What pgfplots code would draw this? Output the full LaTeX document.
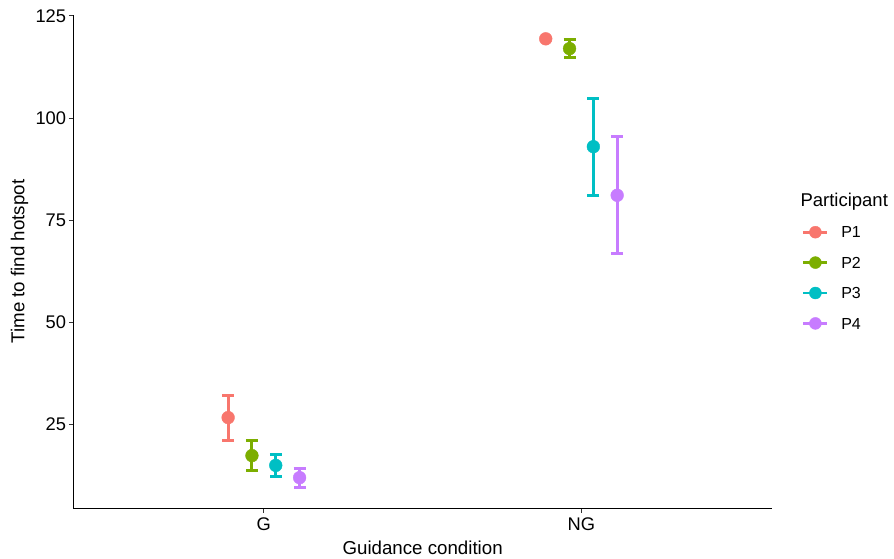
\documentclass[border=0pt]{standalone}
\usepackage{fontspec}
\setmainfont{Liberation Sans}
\usepackage{pgfplots}
\pgfplotsset{compat=1.18}
\usepackage{pgfplotstable}
\definecolor{p1}{HTML}{F8766D}
\definecolor{p2}{HTML}{7CAE00}
\definecolor{p3}{HTML}{00BFC4}
\definecolor{p4}{HTML}{C77CFF}

% x: category position (G=1, NG=2) plus dodge offset; e: half-width of error bar
\pgfplotstableread{
x y e
0.8875 26.7 5.5
1.8875 119.4 0
}\Pone
\pgfplotstableread{
x y e
0.9625 17.4 3.7
1.9625 117.0 2.25
}\Ptwo
\pgfplotstableread{
x y e
1.0375 15.0 2.75
2.0375 93.0 11.85
}\Pthree
\pgfplotstableread{
x y e
1.1125 12.0 2.35
2.1125 81.1 14.35
}\Pfour

\pgfplotsset{
  pstyle/.style={
    color=#1, only marks, mark=*, mark size=6.4pt,
    legend image code/.code={
      \draw[line width=2.8pt] (0pt,0pt) -- (24pt,0pt);
      \fill (12pt,0pt) circle (6pt);
    },
    error bars/.cd, y dir=both, y explicit,
    error bar style={line width=3pt},
    error mark options={rotate=90, mark size=6pt, line width=3pt}
  }
}

\begin{document}
\begin{tikzpicture}
\path[use as bounding box] (-73.3pt,-49.7pt) rectangle (820.7pt,508.3pt);
\begin{axis}[
  at={(0pt,0pt)}, anchor=south west,
  scale only axis, width=698.7pt, height=493.6pt,
  xmin=0.4, xmax=2.6, ymin=4.5, ymax=125.3,
  axis x line=bottom, axis y line=left,
  axis line style={-, line width=1.3pt, black},
  xtick={1,2}, xticklabels={G,NG},
  ytick={25,50,75,100,125}, yticklabels={25,50,75,100,125},
  tick align=outside, major tick length=4.5pt,
  tick style={line width=1.1pt, color=black!80},
  ticklabel style={font=\fontsize{18.3}{20}\selectfont, text=black},
  yticklabel style={anchor=east, inner sep=0pt, xshift=-2.5pt},
  xticklabel style={anchor=base, inner sep=0pt},
  every x tick label/.append style={yshift=-17.7pt},
  xlabel={Guidance condition}, ylabel={Time to find hotspot},
  every axis x label/.style={at={(rel axis cs:0.5,0)}, anchor=base, yshift=-46.2pt, font=\fontsize{18.7}{21}\selectfont},
  every axis y label/.style={at={(rel axis cs:0,0.5)}, xshift=-48.9pt, rotate=90, anchor=base, font=\fontsize{18.7}{21}\selectfont},
  clip=false,
  legend style={at={(rel axis cs:1,1)}, anchor=north west, xshift=30pt, yshift=-211.3pt,
    draw=none, fill=none, inner sep=0pt, outer sep=0pt, row sep=18pt, column sep=12.5pt,
    font=\fontsize{16}{18}\selectfont,
    nodes={inner sep=0pt, outer sep=0pt, text height=11.5pt, text depth=0pt}},
  legend cell align=left,
]
\addplot[pstyle=p1] table[x=x, y=y, y error=e] {\Pone};
\addlegendentry{P1}
\addplot[pstyle=p2] table[x=x, y=y, y error=e] {\Ptwo};
\addlegendentry{P2}
\addplot[pstyle=p3] table[x=x, y=y, y error=e] {\Pthree};
\addlegendentry{P3}
\addplot[pstyle=p4] table[x=x, y=y, y error=e] {\Pfour};
\addlegendentry{P4}
\end{axis}
\node[anchor=base west, font=\fontsize{18.5}{21}\selectfont, inner sep=0pt] at (727pt,302.3pt) {Participant};
\end{tikzpicture}
\end{document}
